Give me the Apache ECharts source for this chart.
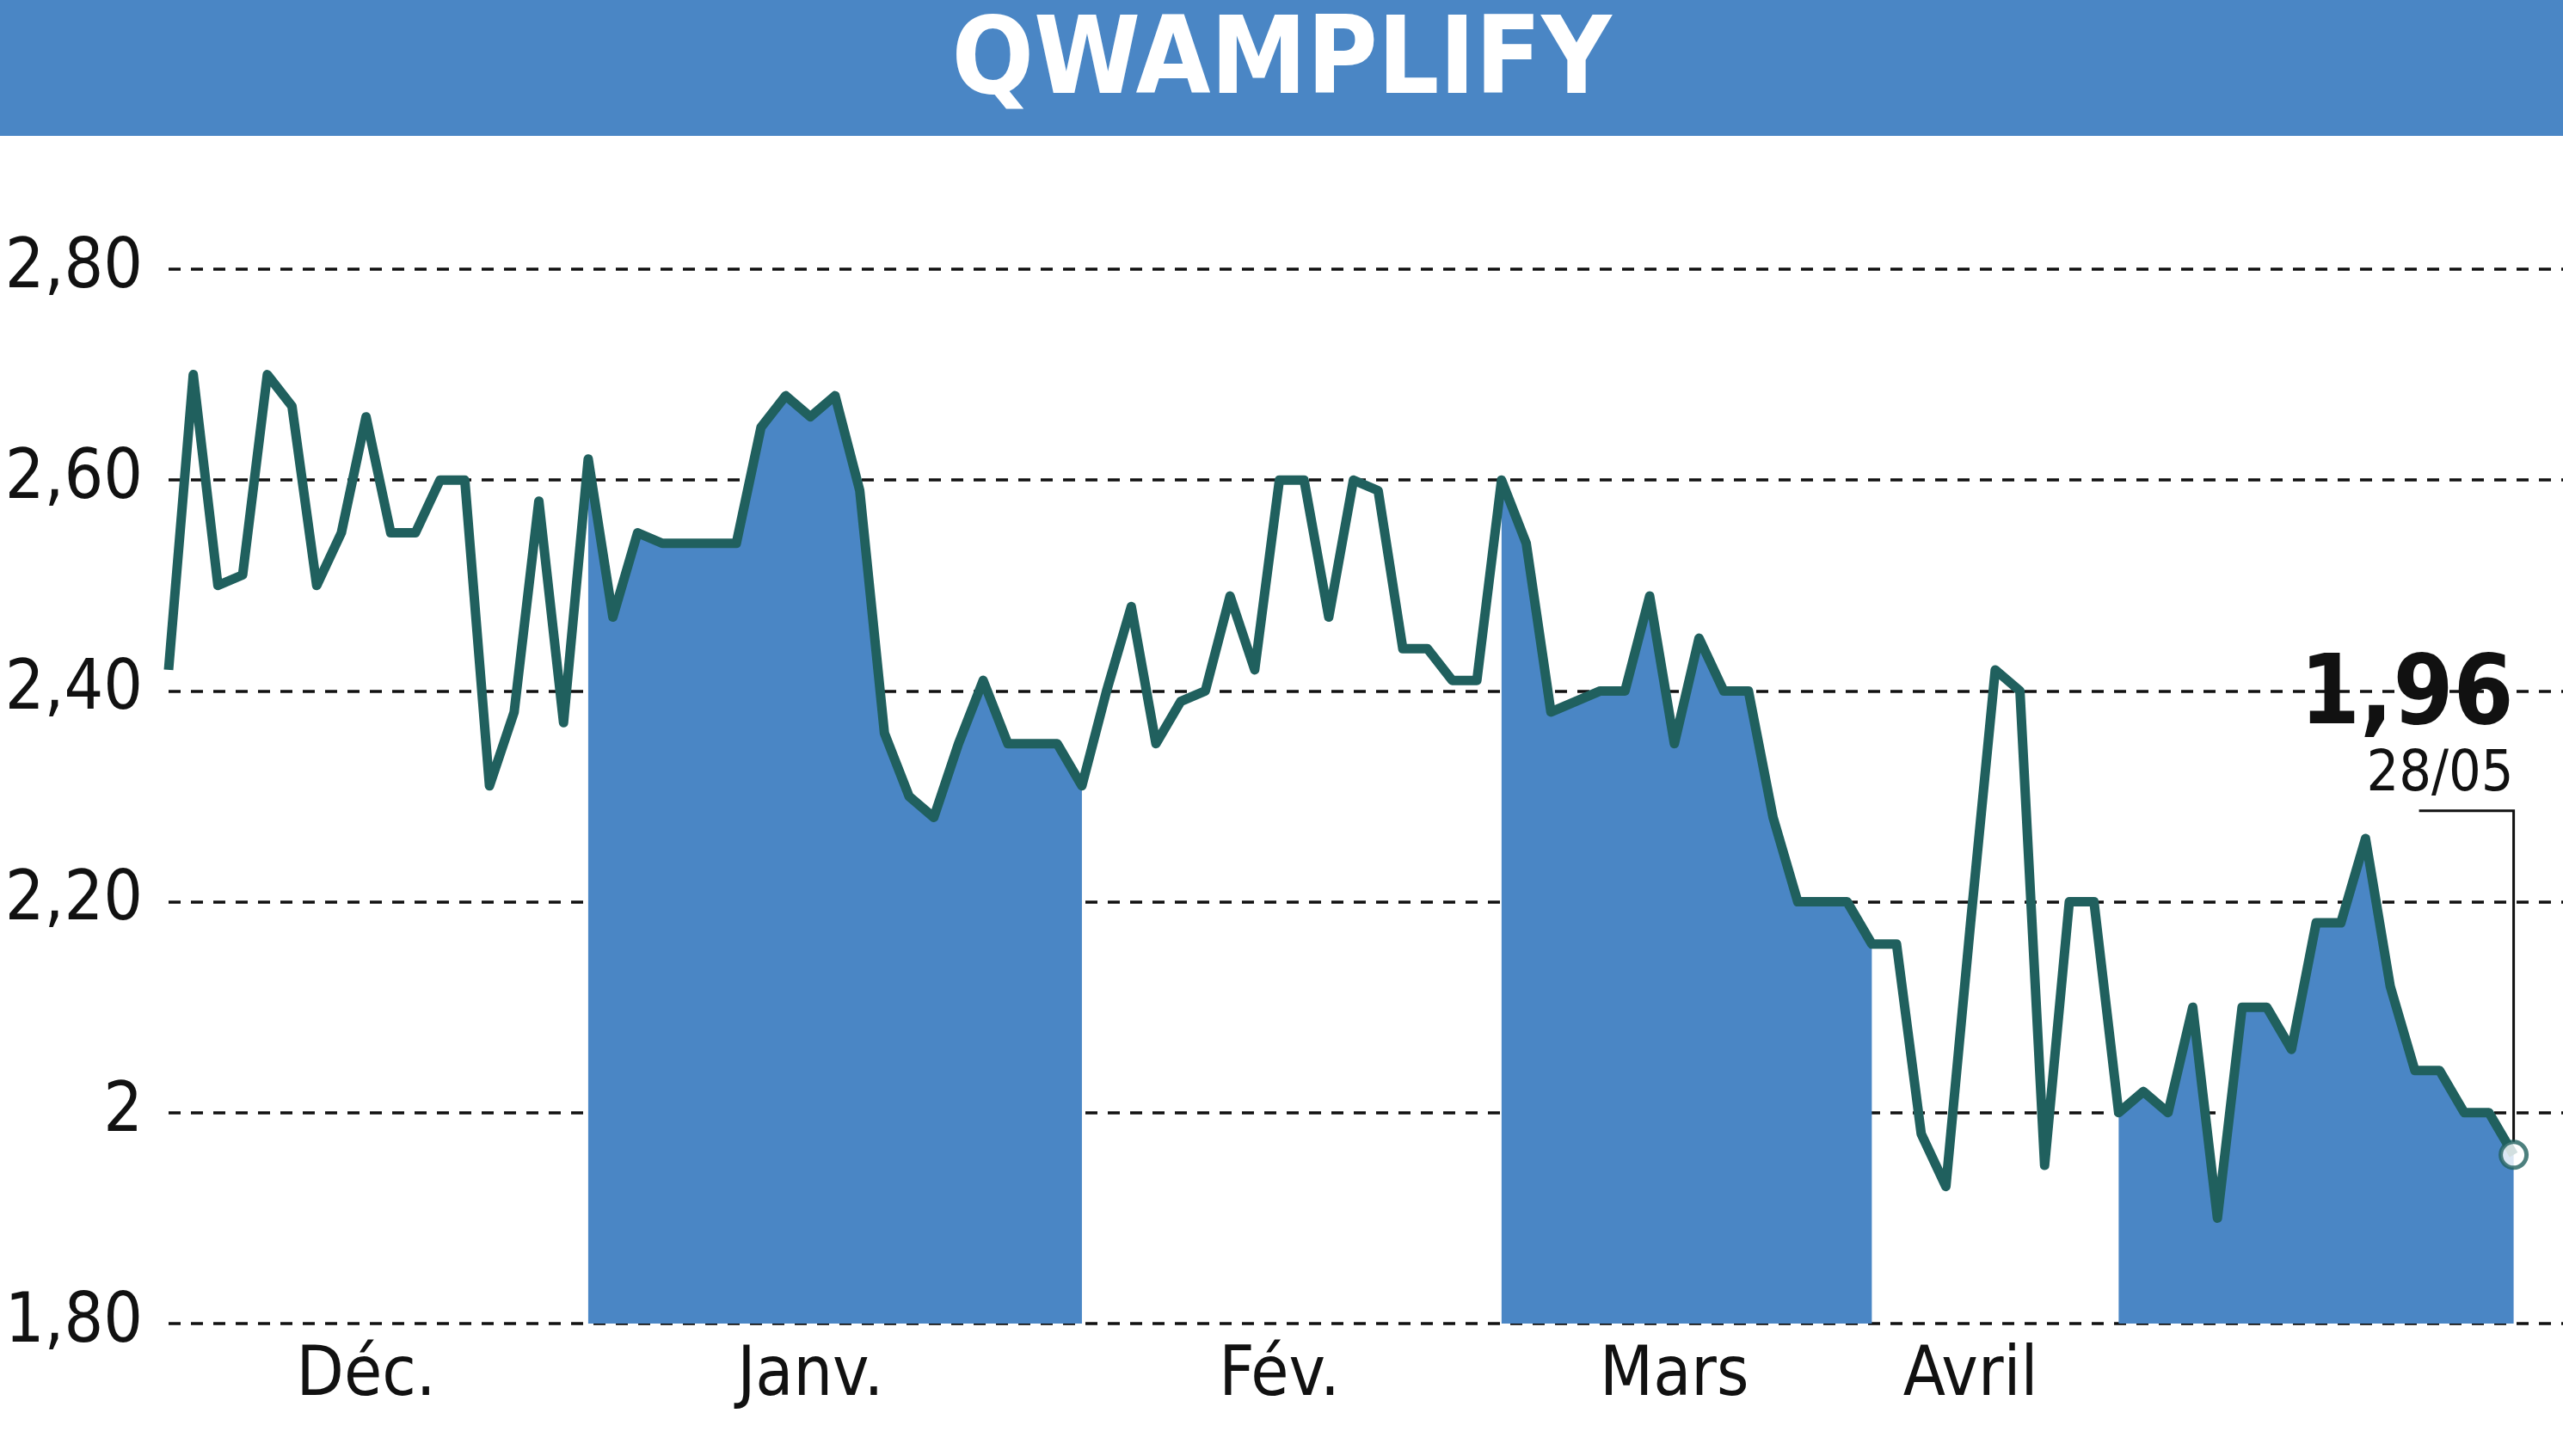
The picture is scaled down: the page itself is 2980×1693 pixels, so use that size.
<!DOCTYPE html>
<html>
<head>
<meta charset="utf-8">
<script src="https://cdn.jsdelivr.net/npm/echarts@6/dist/echarts.min.js"></script>
<style>
  html, body { margin: 0; padding: 0; background: #fff; }
  #chart { width: 2980px; height: 1693px; }
</style>
</head>
<body>
<div id="chart"></div>
<script>
// Cours quotidien (index de séance 0..95)
const prices = [
  2.42, 2.70, 2.50, 2.51, 2.70, 2.67, 2.50, 2.55, 2.66, 2.55,
  2.55, 2.60, 2.60, 2.31, 2.38, 2.58, 2.37, 2.62, 2.47, 2.55,
  2.54, 2.54, 2.54, 2.54, 2.65, 2.68, 2.66, 2.68, 2.59, 2.36,
  2.30, 2.28, 2.35, 2.41, 2.35, 2.35, 2.35, 2.31, 2.40, 2.48,
  2.35, 2.39, 2.40, 2.49, 2.42, 2.60, 2.60, 2.47, 2.60, 2.59,
  2.44, 2.44, 2.41, 2.41, 2.60, 2.54, 2.38, 2.39, 2.40, 2.40,
  2.49, 2.35, 2.45, 2.40, 2.40, 2.28, 2.20, 2.20, 2.20, 2.16,
  2.16, 1.98, 1.93, 2.18, 2.42, 2.40, 1.95, 2.20, 2.20, 2.00,
  2.02, 2.00, 2.10, 1.90, 2.10, 2.10, 2.06, 2.18, 2.18, 2.26,
  2.12, 2.04, 2.04, 2.00, 2.00, 1.96
]
// libellés de mois placés à l'index de séance
const monthLabels = { 8: 'Déc.', 26: 'Janv.', 45: 'Fév.', 61: 'Mars', 73: 'Avril' }
// périodes ombrées [début, fin]
const bands = [[17, 37], [54, 69], [79, 95]]
const lastDate = '28/05'

const FONT = '"Liberation Sans Narrow", "DejaVu Sans Condensed", sans-serif'
const BLUE = '#4a86c5'
const TEAL = '#20605e'

const lineData = prices.map((v, i) => [i, v])
const bandSeries = bands.map(([a, b]) => ({
  type: 'line',
  data: lineData.slice(a, b + 1),
  symbol: 'none',
  lineStyle: { width: 0 },
  areaStyle: { color: BLUE, opacity: 1, origin: 'start' },
  z: 1,
  silent: true
}))

const chart = echarts.init(document.getElementById('chart'))
chart.setOption({
  animation: false,
  title: {
    text: 'QWAMPLIFY',
    left: 'center',
    top: 8,
    textStyle: { fontFamily: FONT, fontWeight: 'bold', fontSize: 125, color: '#fff' }
  },
  grid: { left: 196, right: 0, top: 313, bottom: 154, outerBoundsMode: 'none', containLabel: false },
  xAxis: {
    type: 'value', min: 0, max: 97, interval: 1,
    axisLine: { show: false }, axisTick: { show: false }, splitLine: { show: false },
    axisLabel: {
      margin: 22,
      fontFamily: FONT, fontSize: 80, color: '#111',
      formatter: v => monthLabels[v] || '',
      showMaxLabel: false
    }
  },
  yAxis: {
    type: 'value', min: 1.8, max: 2.8, interval: 0.2,
    axisLine: { show: false }, axisTick: { show: false },
    splitLine: { lineStyle: { type: [14, 12], color: '#111', width: 3.5 } },
    axisLabel: {
      margin: 30,
      fontFamily: FONT, fontSize: 80, color: '#111',
      formatter: v => Math.abs(v - 2) < 1e-9 ? '2' : v.toFixed(2).replace('.', ',')
    }
  },
  series: [
    ...bandSeries,
    {
      type: 'line',
      data: lineData,
      symbol: 'none',
      lineStyle: { color: TEAL, width: 11, join: 'round' },
      z: 3
    },
    {
      type: 'scatter',
      data: [lineData[lineData.length - 1]],
      symbolSize: 30,
      itemStyle: { color: '#fff', borderColor: TEAL, borderWidth: 5 },
      z: 5
    }
  ]
})

// bandeau de titre + annotation de la dernière valeur
const last = lineData[lineData.length - 1]
const p = chart.convertToPixel({ gridIndex: 0 }, last)
const elbowY = p[1] - 400
chart.setOption({
  graphic: [
    { type: 'rect', left: 0, top: 0, z: -1, shape: { width: 2980, height: 158 }, style: { fill: BLUE } },
    {
      type: 'polyline', z: 4,
      shape: { points: [[p[0] - 110, elbowY], [p[0], elbowY], [p[0], p[1] - 15]] },
      style: { stroke: '#111', lineWidth: 3, fill: null }
    },
    {
      type: 'text', z: 4, x: p[0], y: elbowY - 8,
      style: {
        text: lastDate, fill: '#111', font: '66px ' + FONT,
        align: 'right', verticalAlign: 'bottom'
      }
    },
    {
      type: 'text', z: 4, x: p[0], y: elbowY - 75,
      style: {
        text: last[1].toFixed(2).replace('.', ','), fill: '#111', font: 'bold 112px ' + FONT,
        align: 'right', verticalAlign: 'bottom'
      }
    }
  ]
})
</script>
</body>
</html>
